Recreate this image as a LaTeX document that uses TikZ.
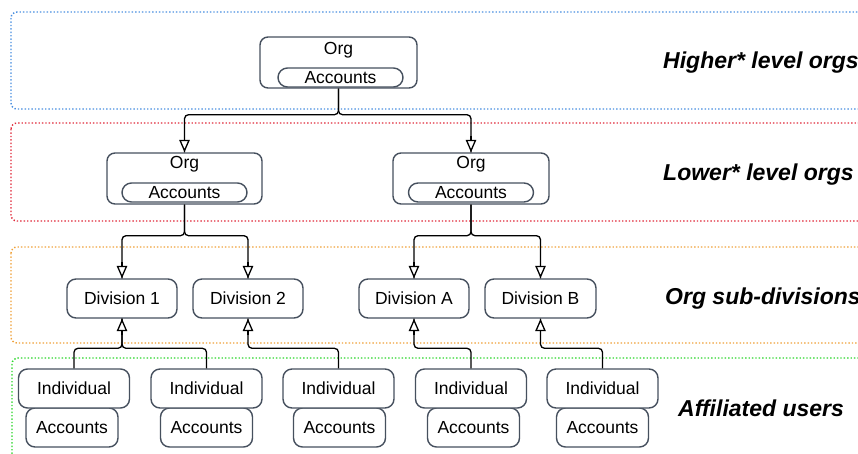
\documentclass[tikz,border=0pt]{standalone}
\usepackage{fontspec}
\setmainfont{Liberation Sans}
\usetikzlibrary{arrows.meta}
\definecolor{boxline}{HTML}{46505E}
\definecolor{tierblue}{HTML}{4A8FE0}
\definecolor{tierred}{HTML}{E02A3A}
\definecolor{tierorange}{HTML}{EFA23A}
\definecolor{tiergreen}{HTML}{2BD62B}
\begin{document}
\begin{tikzpicture}[x=1pt,y=-1pt,
  tier/.style={line width=1.4pt, dash pattern=on 1.4pt off 2pt, rounded corners=6pt},
  shell/.style={draw=boxline, line width=1.4pt, rounded corners=8pt, fill=white, inner sep=0pt},
  pill/.style={draw=boxline, line width=1.4pt, rounded corners=9.5pt, fill=white, inner sep=0pt,
    minimum width=125pt, minimum height=19pt, font=\fontsize{17.5}{19}\selectfont},
  unit/.style={draw=boxline, line width=1.4pt, rounded corners=9pt, fill=white, inner sep=0pt,
    minimum height=39pt, font=\fontsize{17.5}{20}\selectfont},
  caption/.style={anchor=west, inner sep=0pt, font=\fontsize{23}{27}\selectfont\bfseries\itshape},
  plain/.style={inner sep=0pt, font=\fontsize{17.5}{20}\selectfont},
  wire/.style={line width=1.3pt, rounded corners=4pt},
  tip/.style={line width=1.3pt, -{Triangle[length=12.5pt, width=10.5pt, fill=white]}}
]
\useasboundingbox (0,0) rectangle (858,453);
\begin{scope}
\clip (0,0) rectangle (858,453);
% tier bands
\draw[tier, tierblue]   (11,12)  rectangle (900,109);
\draw[tier, tierred]    (11,123) rectangle (900,221);
\draw[tier, tierorange] (11,247) rectangle (900,343);
\draw[tier, tiergreen]  (12,358) rectangle (900,480);
\end{scope}

% tier captions
\node[caption] (capHigh) at (663,63)  {Higher* level orgs};
\node[caption] (capLow)  at (663,175) {Lower* level orgs};
\node[caption] (capSub)  at (665,299) {Org sub-divisions};
\node[caption] (capUser) at (678,408) {Affiliated users};

% top-level org
\node[shell, minimum width=157pt, minimum height=51pt] (o1) at (338.5,62.5) {};
\node[plain] (o1t) at (338.5,50) {Org};
\node[pill] (o1a) at (340.5,77.5) {Accounts};

% lower-level orgs
\node[shell, minimum width=155pt, minimum height=51pt] (o2) at (184.5,178.5) {};
\node[plain] (o2t) at (184.5,164) {Org};
\node[pill] (o2a) at (184.5,192.5) {Accounts};

\node[shell, minimum width=156pt, minimum height=51pt] (o3) at (471,178.5) {};
\node[plain] (o3t) at (471,164) {Org};
\node[pill] (o3a) at (471,192.5) {Accounts};

% divisions
\node[unit, minimum width=110pt] (d1) at (122,298.5)   {Division 1};
\node[unit, minimum width=110pt] (d2) at (248,298.5)   {Division 2};
\node[unit, minimum width=110pt] (da) at (414,298.5)   {Division A};
\node[unit, minimum width=111pt] (db) at (540.5,298.5) {Division B};

% affiliated users: accounts under each individual
\node[unit, minimum width=92pt] (a1) at (72,427.5)    {Accounts};
\node[unit, minimum width=92pt] (a2) at (206.5,427.5) {Accounts};
\node[unit, minimum width=92pt] (a3) at (339.5,427.5) {Accounts};
\node[unit, minimum width=92pt] (a4) at (473.5,427.5) {Accounts};
\node[unit, minimum width=92pt] (a5) at (602.5,427.5) {Accounts};

\node[unit, minimum width=111pt] (i1) at (74,388.5)    {Individual};
\node[unit, minimum width=111pt] (i2) at (206.5,388.5) {Individual};
\node[unit, minimum width=111pt] (i3) at (338.5,388.5) {Individual};
\node[unit, minimum width=111pt] (i4) at (471,388.5)   {Individual};
\node[unit, minimum width=111pt] (i5) at (602.5,388.5) {Individual};

% org hierarchy: rounded elbows, then a white-filled tip over the end of each
\draw[wire] (o1.south) -- ++(0,26) -| (o2.north);
\draw[wire] (o1.south) -- ++(0,26) -| (o3.north);
\draw[wire] (o2.south) -- ++(0,31) -| (d1.north);
\draw[wire] (o2.south) -- ++(0,31) -| (d2.north);
\draw[wire] (o3.south) -- ++(0,31) -| (da.north);
\draw[wire] (o3.south) -- ++(0,31) -| (db.north);
\foreach \n in {o2,o3,d1,d2,da,db}
  \draw[tip] ([yshift=16pt]\n.north) -- (\n.north);

% individuals point up to their division
\draw[wire] (i1.north) -- ++(0,-20) -| (d1.south);
\draw[wire] (i2.north) -- ++(0,-20) -| (d1.south);
\draw[wire] (i3.north) -- ++(0,-20) -| (d2.south);
\draw[wire] (i4.north) -- ++(0,-20) -| (da.south);
\draw[wire] (i5.north) -- ++(0,-20) -| (db.south);
\foreach \n in {d1,d2,da,db}
  \draw[tip] ([yshift=-16pt]\n.south) -- (\n.south);
\end{tikzpicture}
\end{document}
